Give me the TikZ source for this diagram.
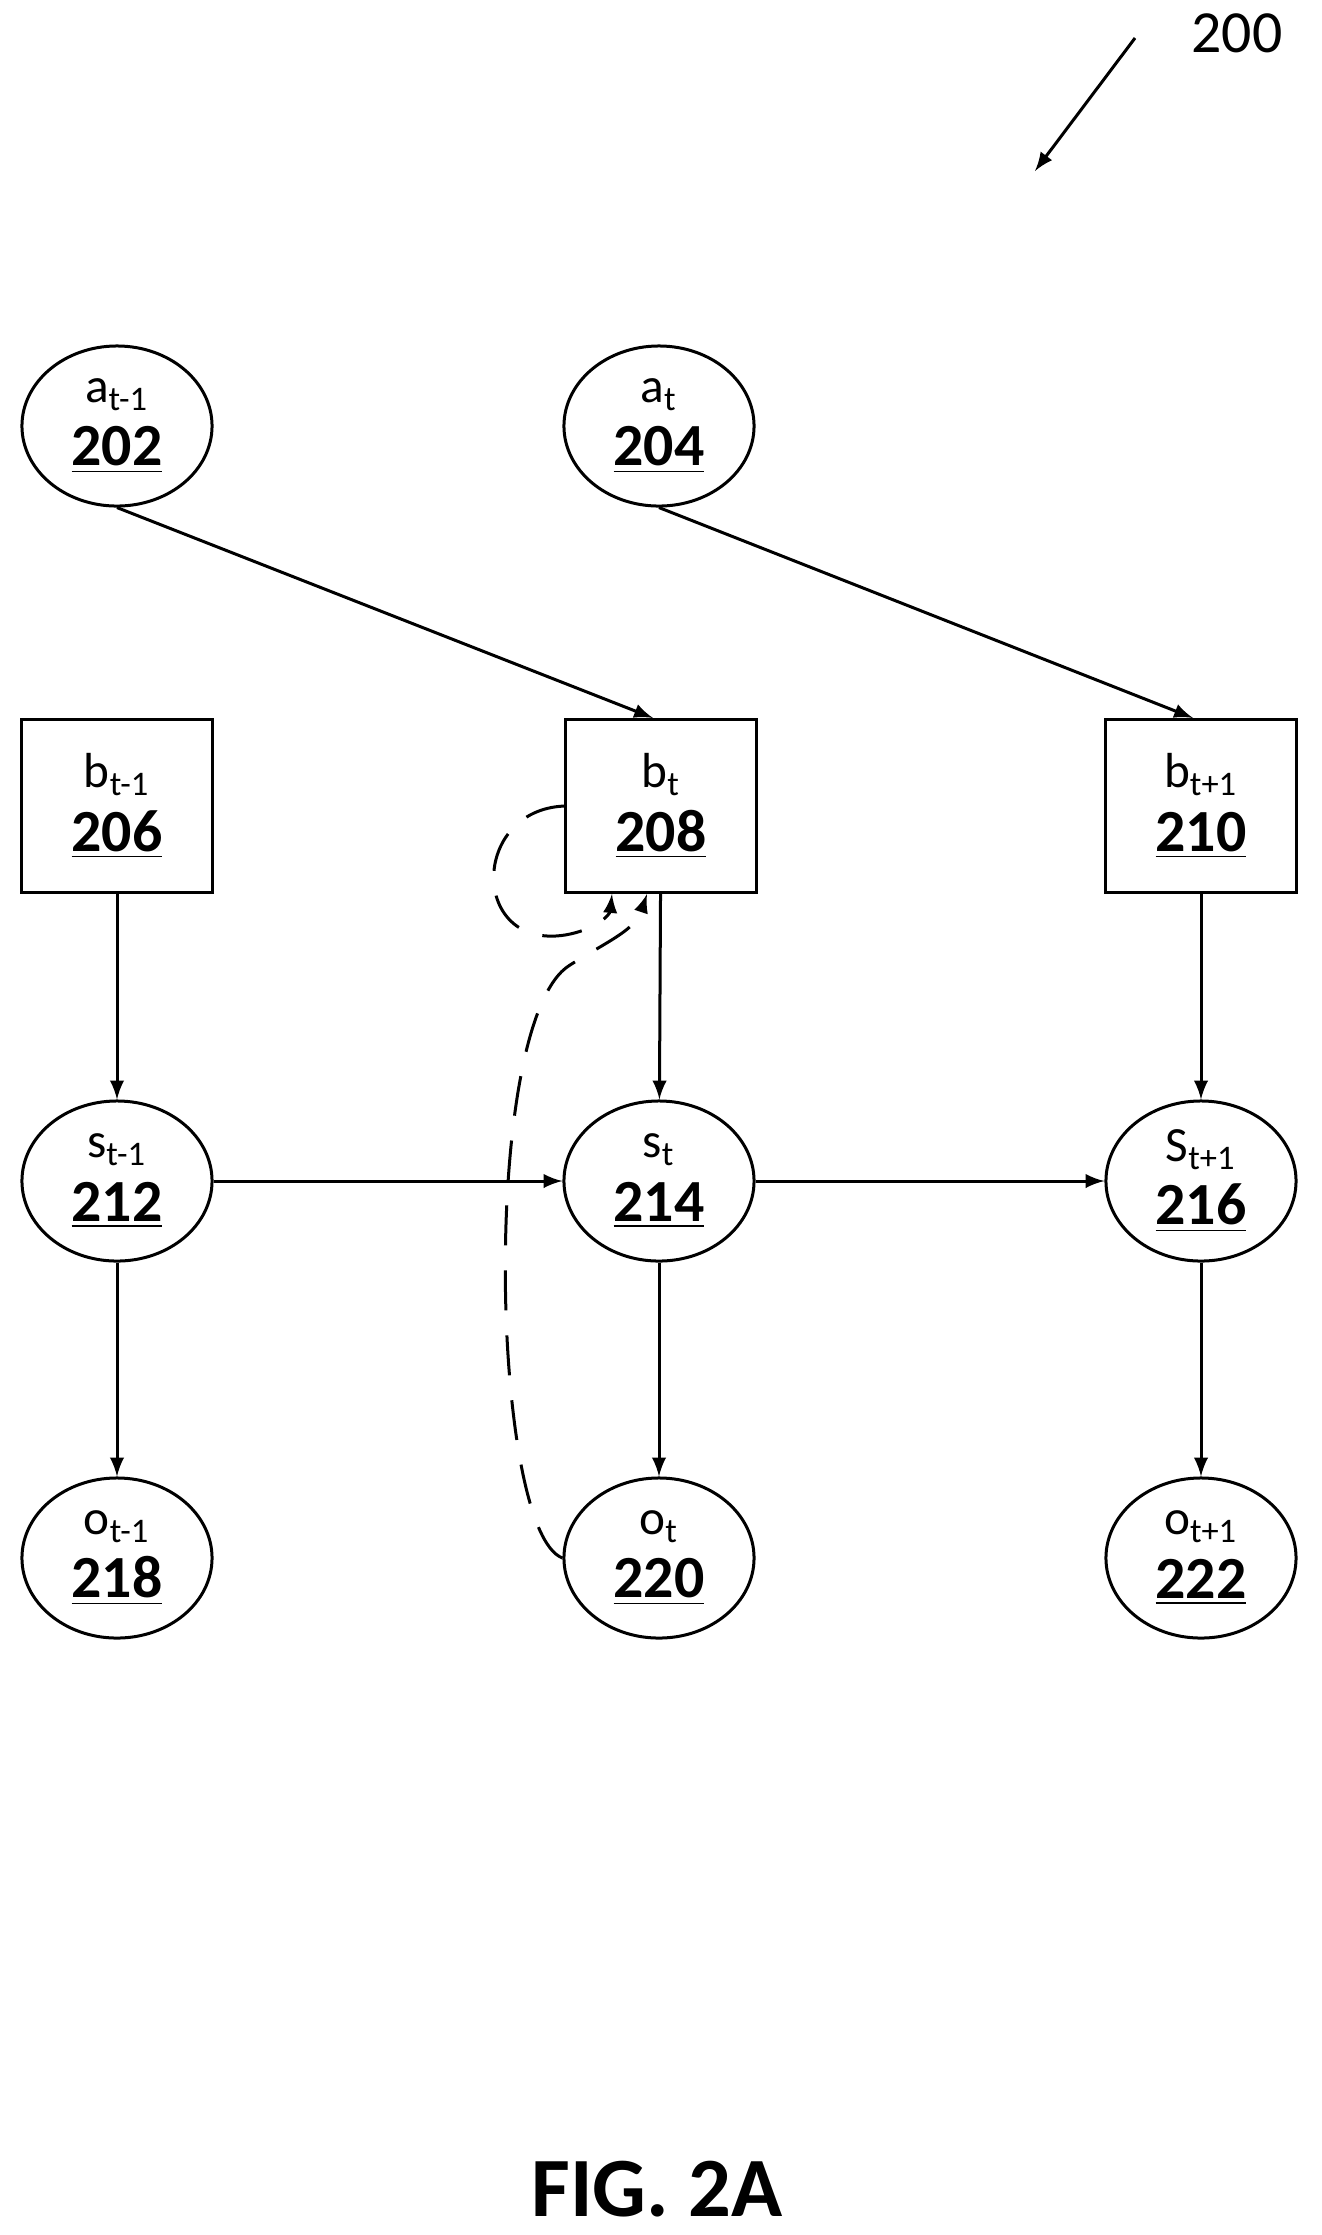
\documentclass[tikz,border=0pt]{standalone}
\usepackage{fontspec}
\setmainfont{Carlito}
\usetikzlibrary{shapes.geometric}
\newcommand{\lbl}[2]{#1\\[2pt]{\fontsize{17}{18}\selectfont\bfseries\underline{#2}}}
\begin{document}
\begin{tikzpicture}[x=0.01cm,y=-0.01cm,line width=0.3mm,
  every node/.style={font=\fontsize{14}{16}\selectfont,align=center,inner sep=0pt},
  state/.style={ellipse,draw,minimum width=1.9cm,minimum height=1.6cm},
  belief/.style={rectangle,draw,minimum width=1.9cm,minimum height=1.73cm},
  link/.style={-latex},
  guess/.style={-latex,dashed,dash pattern=on 4mm off 2.5mm}]
	\useasboundingbox (0,0) rectangle (1322,2235);

	\node[state] (aPrev) at (117,426) {\lbl{a\textsubscript{t-1}}{202}};
	\node[state] (aNow) at (659,426) {\lbl{a\textsubscript{t}}{204}};

	\node[belief] (bPrev) at (117,806) {\lbl{b\textsubscript{t-1}}{206}};
	\node[belief] (bNow) at (661,806) {\lbl{b\textsubscript{t}}{208}};
	\node[belief] (bNext) at (1201,806) {\lbl{b\textsubscript{t+1}}{210}};

	\node[state] (sPrev) at (117,1181) {\lbl{s\textsubscript{t-1}}{212}};
	\node[state] (sNow) at (659,1181) {\lbl{s\textsubscript{t}}{214}};
	\node[state] (sNext) at (1201,1181) {\lbl{S\textsubscript{t+1}}{216}};

	\node[state] (oPrev) at (117,1558) {\lbl{o\textsubscript{t-1}}{218}};
	\node[state] (oNow) at (659,1558) {\lbl{o\textsubscript{t}}{220}};
	\node[state] (oNext) at (1201,1558) {\lbl{o\textsubscript{t+1}}{222}};

	% actions into beliefs
	\draw[link] (aPrev.south) -- ([xshift=-0.08cm]bNow.north);
	\draw[link] (aNow.south) -- ([xshift=-0.08cm]bNext.north);

	% beliefs, states, observations
	\foreach \b/\s/\o in {bPrev/sPrev/oPrev,bNow/sNow/oNow,bNext/sNext/oNext}{
		\draw[link] (\b) -- (\s);
		\draw[link] (\s) -- (\o);
	}
	\draw[link] (sPrev) -- (sNow);
	\draw[link] (sNow) -- (sNext);

	% belief update
	\draw[guess] (bNow.west) .. controls (470,810) and (470,950) .. (565,935)
		.. controls (595,930) and (610,915) .. ([xshift=-0.49cm]bNow.south);
	\draw[guess] (oNow.west) .. controls (490,1530) and (480,1020) .. (570,965)
		.. controls (610,940) and (635,930) .. ([xshift=-0.14cm]bNow.south);

	\node (figNum) at (1237,33) {\fontsize{17}{18}\selectfont 200};
	\coordinate (figTip) at (1035,171);
	\draw[link] ([shift={(-0.55cm,-0.05cm)}]figNum.west) -- (figTip);

	\node (caption) at (657,2189) {\fontsize{24}{26}\selectfont\bfseries FIG. 2A};
\end{tikzpicture}
\end{document}
